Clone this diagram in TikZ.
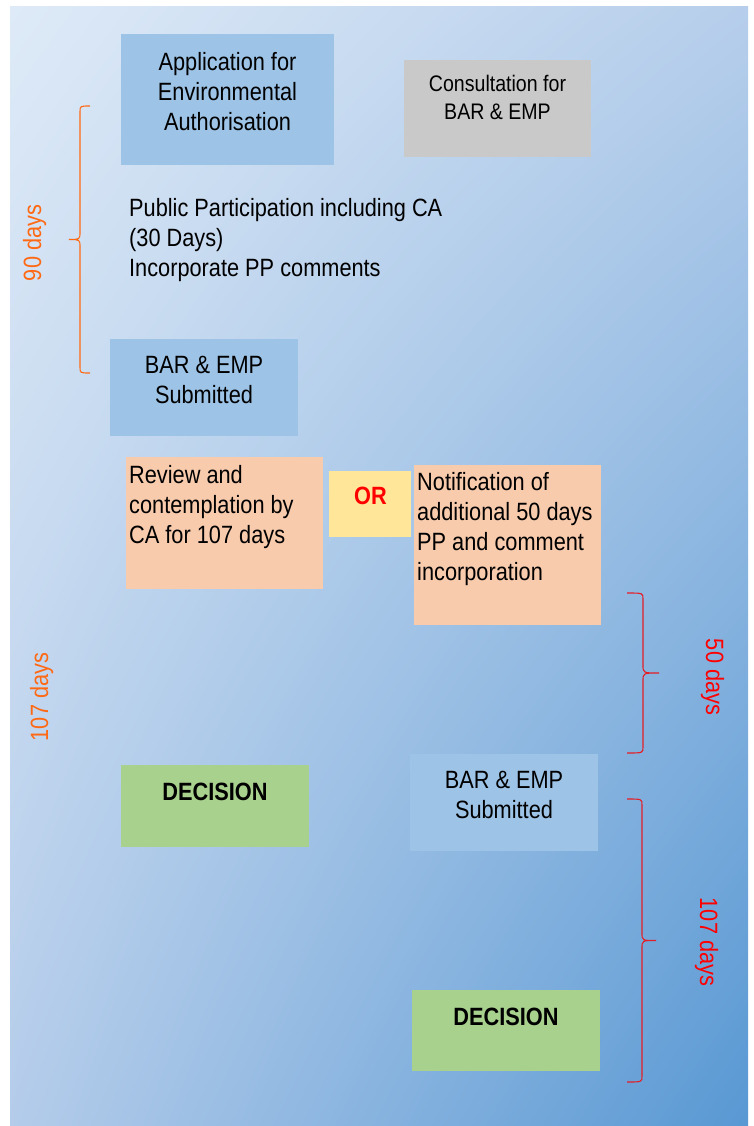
\documentclass[tikz,border=0pt]{standalone}
\usepackage{fontspec}
\setmainfont[FakeStretch=0.87]{Liberation Sans}
\usetikzlibrary{positioning,shadings}

\definecolor{appblue}{RGB}{157,195,230}
\definecolor{consgray}{RGB}{201,201,201}
\definecolor{peach}{RGB}{248,203,173}
\definecolor{oryellow}{RGB}{255,230,153}
\definecolor{decgreen}{RGB}{169,209,142}
\definecolor{dayorange}{RGB}{255,105,20}
\definecolor{dayred}{RGB}{255,0,0}
\definecolor{bracered}{RGB}{228,30,38}

% time brace: colour, end x, spine x, tip x, top y, bottom y
\newcommand{\timebrace}[6]{%
  \pgfmathsetmacro{\bmid}{(#5+#6)/2}
  \draw[#1, line width=1.1pt] (#2,#5) .. controls (#3,#5) .. (#3,#5+6)
    -- (#3,\bmid-8) .. controls (#3,\bmid) .. (#4,\bmid) .. controls (#3,\bmid) .. (#3,\bmid+8)
    -- (#3,#6-6) .. controls (#3,#6) .. (#2,#6);
}

\begin{document}
\begin{tikzpicture}[
    x=1pt, y=-1pt,
    blockbox/.style={rectangle, inner sep=0, outer sep=0, anchor=north west},
    blocktext/.style={inner sep=0, font=\fontsize{25}{30}\selectfont},
    daylabel/.style={inner sep=0, anchor=base, font=\fontsize{25}{30}\selectfont}
]
    \useasboundingbox (0,0) rectangle (753,1126);
    % background
    \shade[upper left={rgb,255:red,222;green,234;blue,247}, upper right={rgb,255:red,182;green,206;blue,235},
           lower left={rgb,255:red,180;green,204;blue,234}, lower right={rgb,255:red,88;green,152;blue,211}]
        (10,7) rectangle (748,1125);

    % boxes
    \node[blockbox, fill=appblue, minimum width=213pt, minimum height=131pt] (app) at (121,34) {};
    \node[blockbox, fill=consgray, minimum width=187pt, minimum height=97pt] (cons) at (404,60) {};
    \node[blockbox, fill=appblue, minimum width=188pt, minimum height=97pt] (sub1) at (110,339) {};
    \node[blockbox, fill=peach, minimum width=197pt, minimum height=132pt] (review) at (126,457) {};
    \node[blockbox, fill=oryellow, minimum width=82pt, minimum height=66pt] (or) at (329,471) {};
    \node[blockbox, fill=peach, minimum width=187pt, minimum height=160pt] (notify) at (414,465) {};
    \node[blockbox, fill=decgreen, minimum width=188pt, minimum height=82pt] (dec1) at (121,765) {};
    \node[blockbox, fill=appblue, minimum width=188pt, minimum height=97pt] (sub2) at (410,754) {};
    \node[blockbox, fill=decgreen, minimum width=188pt, minimum height=81pt] (dec2) at (412,990) {};

    % texts
    \node[blocktext, align=center, anchor=north] (appT) at (227.5,52) {Application for\\Environmental\\Authorisation};
    \node[blocktext, font=\fontsize{22.5}{28}\selectfont, align=center, anchor=north] (consT) at (497.5,75) {Consultation for\\BAR \& EMP};
    \node[blocktext, align=left, anchor=north west] (ppT) at (129,198) {Public Participation including CA\\(30 Days)\\Incorporate PP comments};
    \node[blocktext, align=center, anchor=north] (sub1T) at (204,356) {BAR \& EMP\\Submitted};
    \node[blocktext, align=left, anchor=north west] (reviewT) at (129,465) {Review and\\contemplation by\\CA for 107 days};
    \node[blocktext, anchor=north, text=dayred, font=\fontsize{25}{30}\selectfont\bfseries] (orT) at (370.5,487) {OR};
    \node[blocktext, align=left, anchor=north west] (notifyT) at (417,472) {Notification of\\additional 50 days\\PP and comment\\incorporation};
    \node[blocktext, anchor=north, font=\fontsize{25}{30}\selectfont\bfseries] (dec1T) at (215,783) {DECISION};
    \node[blocktext, align=center, anchor=north] (sub2T) at (504,771) {BAR \& EMP\\Submitted};
    \node[blocktext, anchor=north, font=\fontsize{25}{30}\selectfont\bfseries] (dec2T) at (506,1008) {DECISION};

    % braces
    \timebrace{dayorange}{90}{80}{69}{106}{373}
    \timebrace{bracered}{627}{643}{659}{593}{753}
    \timebrace{bracered}{627}{642}{656}{799}{1082}

    % day labels
    \node[daylabel, rotate=90, text=dayorange] (d90) at (41,243) {90 days};
    \node[daylabel, rotate=90, text=dayorange] (d107l) at (48,697) {107 days};
    \node[daylabel, rotate=-90, text=dayred] (d50) at (706,677) {50 days};
    \node[daylabel, rotate=-90, text=dayred] (d107r) at (700,942) {107 days};
\end{tikzpicture}
\end{document}
